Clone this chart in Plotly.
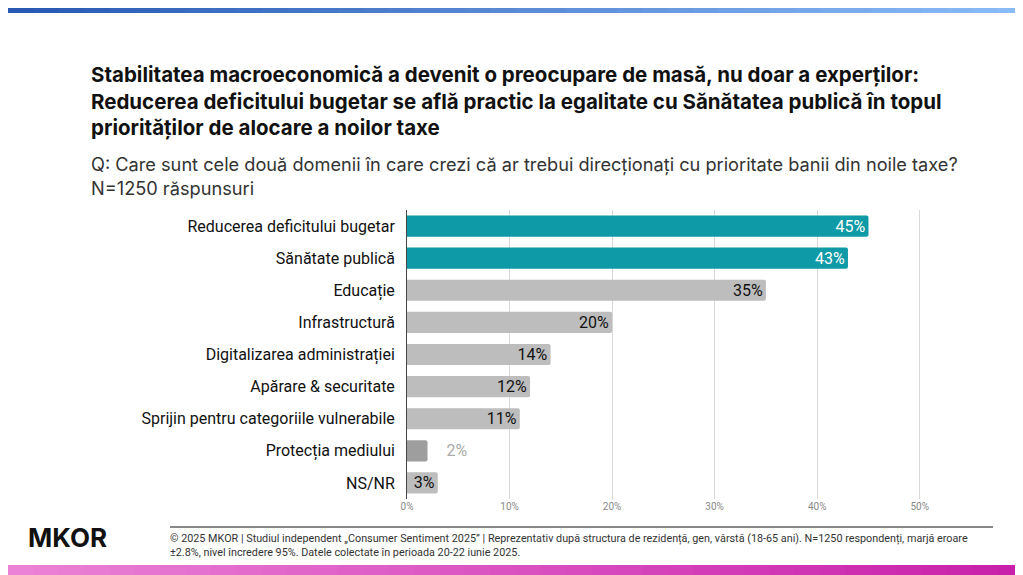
import plotly.graph_objects as go

categories = ["Reducerea deficitului bugetar", "Sănătate publică", "Educație", "Infrastructură",
              "Digitalizarea administrației", "Apărare & securitate",
              "Sprijin pentru categoriile vulnerabile", "Protecția mediului", "NS/NR"]
values = [45, 43, 35, 20, 14, 12, 11, 2, 3]
bar_colors = ["#0e9aa7", "#0e9aa7", "#bdbdbd", "#bdbdbd", "#bdbdbd", "#bdbdbd", "#bdbdbd", "#9e9e9e", "#bdbdbd"]
text_colors = ["white", "white", "#111", "#111", "#111", "#111", "#111", "#aaaaaa", "#111"]
text_pos = ["inside"] * 7 + ["outside", "inside"]
tick_vals = [0, 10, 20, 30, 40, 50]
tick_text = ["0%", "10%", "20%", "30%", "40%", "50%"]

O = 8  # page body offset
L, R, T, B = 407 - O, 930 - O, 210 - O, 499 - O
W, H = 1023, 575
def px(x): return (x - O - L) / (R - L)
def py(y): return (B - (y - O)) / (B - T)

labels = [("    " if p == "outside" else "") + f"{v}%" for v, p in zip(values, text_pos)]

fig = go.Figure(go.Bar(
    x=values, y=categories, orientation="h",
    marker=dict(color=bar_colors, line=dict(width=0), cornerradius=2),
    text=labels, textposition=text_pos,
    insidetextanchor="end",
    textfont=dict(family="Roboto", size=16, color=text_colors),
    insidetextfont=dict(family="Roboto", size=16, color=text_colors),
    outsidetextfont=dict(family="Roboto", size=16, color="#aaaaaa"),
    width=0.66, cliponaxis=False,
))

fig.update_layout(
    width=W, height=H, paper_bgcolor="white", plot_bgcolor="white",
    margin=dict(l=L, r=W - R, t=T, b=H - B),
    showlegend=False, uniformtext=dict(minsize=16, mode="show"),
    xaxis=dict(range=[0, 51], tickvals=tick_vals, ticktext=tick_text, showgrid=True,
               gridcolor="#d9d9d9", zeroline=False, tickfont=dict(family="Roboto", size=10, color="#888"),
               ticks="", showline=False),
    yaxis=dict(autorange="reversed", tickfont=dict(family="Roboto", size=16, color="#111"),
               ticks="", ticksuffix="  ", showline=True, linecolor="#444", linewidth=1),
    font=dict(family="Roboto"),
)

n = 40
top_a, top_b = (40, 90, 180), (140, 190, 250)
bot_a, bot_b = (235, 130, 215), (200, 30, 170)
def mix(a, b, t):
    return "rgb(%d,%d,%d)" % tuple(int(a[i] + (b[i] - a[i]) * t) for i in range(3))
for i in range(n):
    xa = px(O + i * (W - O) / n)
    xb = px(O + (i + 1) * (W - O) / n + 1)
    fig.add_shape(type="rect", xref="paper", yref="paper", x0=xa, x1=xb, y0=py(565), y1=py(600),
                  fillcolor=mix(bot_a, bot_b, i / n), line=dict(width=0), layer="above")
    fig.add_shape(type="rect", xref="paper", yref="paper", x0=xa, x1=xb, y0=py(8), y1=py(13),
                  fillcolor=mix(top_a, top_b, i / n), line=dict(width=0), layer="above")

fig.add_shape(type="line", xref="paper", yref="paper", x0=px(170), x1=px(993),
              y0=py(527), y1=py(527), line=dict(color="#888", width=2))

title = ("<b>Stabilitatea macroeconomică a devenit o preocupare de masă, nu doar a experților:<br>"
         "Reducerea deficitului bugetar se află practic la egalitate cu Sănătatea publică în topul<br>"
         "priorităților de alocare a noilor taxe</b>")
fig.add_annotation(text=title, xref="paper", yref="paper", x=px(89), y=py(60),
                   xanchor="left", yanchor="top", align="left", showarrow=False,
                   font=dict(family="Inter", size=20.5, color="#111"))
fig.add_annotation(text="Q: Care sunt cele două domenii în care crezi că ar trebui direcționați cu prioritate banii din noile taxe?<br>N=1250 răspunsuri",
                   xref="paper", yref="paper", x=px(89), y=py(151),
                   xanchor="left", yanchor="top", align="left", showarrow=False,
                   font=dict(family="Inter", size=18.2, color="#333"))
fig.add_annotation(text="© 2025 MKOR | Studiul independent „Consumer Sentiment 2025” | Reprezentativ după structura de rezidență, gen, vârstă (18-65 ani). N=1250 respondenți, marjă eroare<br>±2.8%, nivel încredere 95%. Datele colectate în perioada 20-22 iunie 2025.",
                   xref="paper", yref="paper", x=px(168), y=py(530),
                   xanchor="left", yanchor="top", align="left", showarrow=False,
                   font=dict(family="Roboto", size=10.8, color="#333"))
fig.add_annotation(text="<b>MKOR</b>", xref="paper", yref="paper", x=px(26), y=py(537),
                   xanchor="left", yanchor="middle", showarrow=False,
                   font=dict(family="Inter", size=26, color="#111"))

fig.write_html("out.html")
